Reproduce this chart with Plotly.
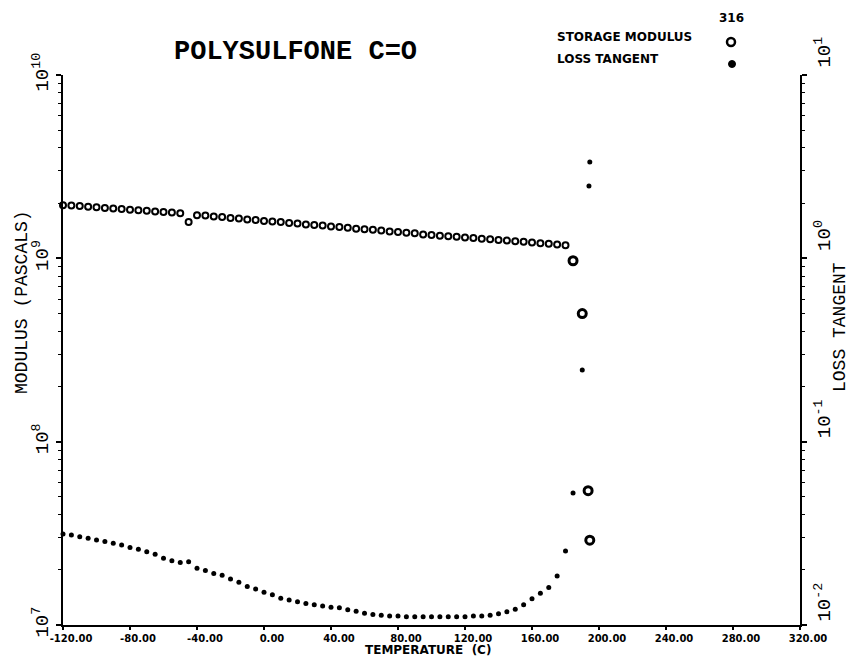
import plotly.graph_objects as go

# ---- data ----
temperature_c = [-120, -115, -110, -105, -100, -95, -90, -85, -80, -75, -70, -65, -60, -55, -50,
                 -45, -40, -35, -30, -25, -20, -15, -10, -5, 0, 5, 10, 15, 20, 25, 30, 35, 40,
                 45, 50, 55, 60, 65, 70, 75, 80, 85, 90, 95, 100, 105, 110, 115, 120, 125, 130,
                 135, 140, 145, 150, 155, 160, 165, 170, 175, 180]

storage_modulus_gpa = [1.95, 1.94, 1.93, 1.91, 1.90, 1.88, 1.87, 1.86, 1.84, 1.83, 1.82, 1.80, 1.79,
                       1.78, 1.76, 1.58, 1.72, 1.71, 1.69, 1.68, 1.66, 1.65, 1.63, 1.62, 1.60, 1.59,
                       1.58, 1.56, 1.55, 1.53, 1.52, 1.51, 1.49, 1.48, 1.47, 1.45, 1.44, 1.43, 1.42,
                       1.40, 1.39, 1.38, 1.37, 1.35, 1.34, 1.33, 1.32, 1.31, 1.30, 1.29, 1.28, 1.27,
                       1.26, 1.25, 1.24, 1.23, 1.22, 1.21, 1.20, 1.19, 1.18]

loss_tangent = [0.0314, 0.0310, 0.0303, 0.0297, 0.0291, 0.0285, 0.0279, 0.0273, 0.0265, 0.0259,
                0.0251, 0.0243, 0.0231, 0.0224, 0.0219, 0.0221, 0.0204, 0.0198, 0.0191, 0.0187,
                0.0178, 0.0171, 0.0162, 0.0157, 0.0151, 0.0146, 0.0140, 0.0137, 0.0134, 0.0131,
                0.0129, 0.0127, 0.0125, 0.0124, 0.0121, 0.0119, 0.0116, 0.0114, 0.0113, 0.0112,
                0.0112, 0.0111, 0.0111, 0.0111, 0.0111, 0.0111, 0.0111, 0.0111, 0.0111, 0.0112,
                0.0112, 0.0113, 0.0115, 0.0118, 0.0122, 0.0129, 0.0139, 0.0149, 0.0160, 0.0185,
                0.0253]

storage_tail_temp_c = [184.5, 190.0, 193.5, 194.5]
storage_tail_gpa = [0.97, 0.50, 0.054, 0.029]

loss_tail_temp_c = [184.5, 190.0, 194.0, 194.5]
loss_tail = [0.0525, 0.246, 2.48, 3.35]

x_tick_values = [-120, -80, -40, 0, 40, 80, 120, 160, 200, 240, 280, 320]
x_tick_text = ["-120.00", "-80.00", "-40.00", "0.00", "40.00", "80.00", "120.00",
               "160.00", "200.00", "240.00", "280.00", "320.00"]
left_tick_values = [1e7, 1e8, 1e9, 1e10]
left_tick_text = ["10<sup>7</sup>", "10<sup>8</sup>", "10<sup>9</sup>", "10<sup>10</sup>"]
right_tick_values = [1e-2, 1e-1, 1e0, 1e1]
right_tick_text = ["10<sup>-2</sup>", "10<sup>-1</sup>", "10<sup>0</sup>", "10<sup>1</sup>"]
minor_digits = [2, 3, 4, 5, 6, 7, 8, 9]

# ---- figure ----
MONO = "Liberation Mono, DejaVu Sans Mono, monospace"
SANS = "DejaVu Sans, Liberation Sans, sans-serif"

# the page body has an 8px margin; size the figure so the plot lands where the reference has it
OFF = 8
FIG_W, FIG_H = 854 - OFF, 656 - OFF
PLOT_L, PLOT_R, PLOT_T, PLOT_B = 63, 800, 75, 625   # page pixels of the plot frame

fig = go.Figure()

fig.add_trace(go.Scatter(
    x=temperature_c, y=[v * 1e9 for v in storage_modulus_gpa], mode="markers",
    marker=dict(symbol="circle-open", size=6, color="black", line=dict(width=2, color="black")),
    yaxis="y", showlegend=False, name="STORAGE MODULUS", cliponaxis=False))
fig.add_trace(go.Scatter(
    x=storage_tail_temp_c, y=[v * 1e9 for v in storage_tail_gpa], mode="markers",
    marker=dict(symbol="circle-open", size=8, color="black", line=dict(width=3, color="black")),
    yaxis="y", showlegend=False, name="STORAGE MODULUS", cliponaxis=False))
fig.add_trace(go.Scatter(
    x=temperature_c, y=loss_tangent, mode="markers",
    marker=dict(symbol="circle", size=5, color="black"),
    yaxis="y2", showlegend=False, name="LOSS TANGENT", cliponaxis=False))
fig.add_trace(go.Scatter(
    x=loss_tail_temp_c, y=loss_tail, mode="markers",
    marker=dict(symbol="circle", size=5, color="black"),
    yaxis="y2", showlegend=False, name="LOSS TANGENT", cliponaxis=False))

left_minor = [d * 10 ** e for e in (7, 8, 9) for d in minor_digits]
right_minor = [d * 10.0 ** e for e in (-2, -1, 0) for d in minor_digits]

fig.update_layout(
    width=FIG_W, height=FIG_H,
    margin=dict(l=PLOT_L - OFF, r=FIG_W - (PLOT_R - OFF), t=PLOT_T - OFF, b=FIG_H - (PLOT_B - OFF), pad=0),
    paper_bgcolor="white", plot_bgcolor="white",
    xaxis=dict(
        range=[-120, 320], showgrid=False, zeroline=False, automargin=False,
        showline=True, linewidth=2, linecolor="black",
        ticks="outside", ticklen=3, tickwidth=1.5, tickcolor="black",
        tickvals=x_tick_values, ticktext=x_tick_text, ticklabelshift=8,
        ticklabelstandoff=0,
        tickfont=dict(family=SANS, size=10, color="black", weight="bold"),
    ),
    yaxis=dict(
        type="log", range=[7, 10], showgrid=False, zeroline=False, automargin=False,
        showline=True, linewidth=2, linecolor="black",
        ticks="outside", ticklen=5, tickwidth=1.5, tickcolor="black",
        tickvals=left_tick_values, ticktext=left_tick_text, tickangle=-90,
        ticklabelshift=0,
        tickfont=dict(family=MONO, size=19, color="black"),
        minor=dict(ticks="outside", ticklen=3, tickwidth=1, tickcolor="black",
                   tickmode="array", tickvals=left_minor, showgrid=False),
    ),
    yaxis2=dict(
        type="log", range=[-2, 1], overlaying="y", side="right",
        showgrid=False, zeroline=False, automargin=False,
        showline=True, linewidth=2, linecolor="black",
        ticks="outside", ticklen=5, tickwidth=1.5, tickcolor="black",
        tickvals=right_tick_values, ticktext=right_tick_text, tickangle=-90,
        ticklabelshift=-20,
        tickfont=dict(family=MONO, size=19, color="black"),
        minor=dict(ticks="outside", ticklen=3, tickwidth=1, tickcolor="black",
                   tickmode="array", tickvals=right_minor, showgrid=False),
    ),
)

def px_x(px):
    return (px - PLOT_L) / float(PLOT_R - PLOT_L)

def px_y(py):
    return (PLOT_B - py) / float(PLOT_B - PLOT_T)

annotations = [
    dict(text="<b>POLYSULFONE C=O</b>", x=px_x(295), y=px_y(52), xanchor="center", yanchor="middle",
         font=dict(family=MONO, size=27, color="black")),
    dict(text="<b>STORAGE MODULUS</b>", x=px_x(555), y=px_y(37), xanchor="left", yanchor="middle",
         font=dict(family=SANS, size=12, color="black")),
    dict(text="<b>LOSS TANGENT</b>", x=px_x(555), y=px_y(59), xanchor="left", yanchor="middle",
         font=dict(family=SANS, size=12, color="black")),
    dict(text="<b>316</b>", x=px_x(731), y=px_y(18), xanchor="center", yanchor="middle",
         font=dict(family=SANS, size=12, color="black")),
    dict(text="MODULUS (PASCALS)", x=px_x(22), y=px_y(302), xanchor="center", yanchor="middle",
         textangle=-90, font=dict(family=MONO, size=18, color="black")),
    dict(text="LOSS TANGENT", x=px_x(840), y=px_y(327), xanchor="center", yanchor="middle",
         textangle=-90, font=dict(family=MONO, size=18, color="black")),
    dict(text="<b>TEMPERATURE  (C)</b>", x=px_x(428), y=px_y(650), xanchor="center", yanchor="middle",
         font=dict(family=SANS, size=12, color="black")),
]
for a in annotations:
    a.update(xref="paper", yref="paper", showarrow=False)
fig.update_layout(annotations=annotations)

fig.add_shape(type="circle", xref="paper", yref="paper", xsizemode="pixel", ysizemode="pixel",
              xanchor=px_x(731), yanchor=px_y(42), x0=-4, x1=4, y0=-4, y1=4,
              line=dict(color="black", width=2.5), fillcolor="white")
fig.add_shape(type="circle", xref="paper", yref="paper", xsizemode="pixel", ysizemode="pixel",
              xanchor=px_x(732), yanchor=px_y(64), x0=-3.5, x1=3.5, y0=-3.5, y1=3.5,
              line=dict(color="black", width=1), fillcolor="black")

fig.write_html("out.html")
